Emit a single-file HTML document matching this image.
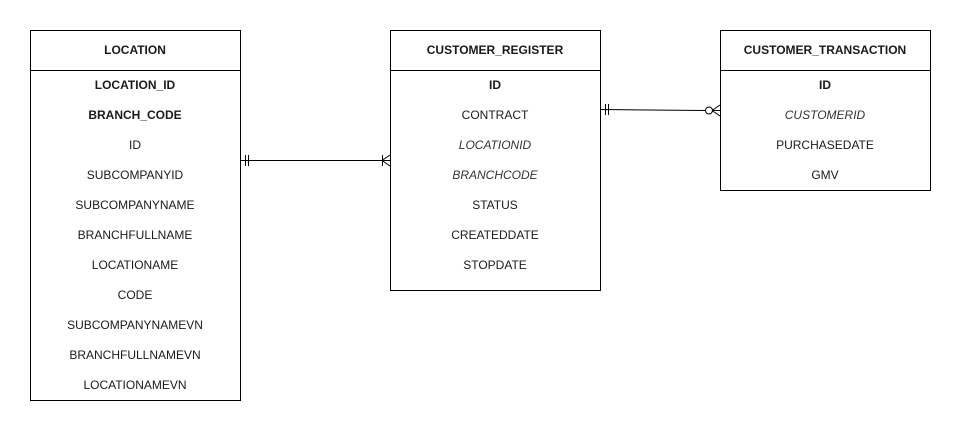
<!DOCTYPE html>
<html><head><meta charset="utf-8"><style>
html,body{margin:0;padding:0;background:#fff;width:963px;height:432px;overflow:hidden}
svg text{font-family:"Liberation Sans",Arial,sans-serif;font-size:12px;fill:#1a1a1a;text-anchor:middle;dominant-baseline:central}
.b{font-weight:bold}
.i{font-style:italic;fill:#333}
</style></head><body>
<svg width="963" height="432" viewBox="0 0 963 432" xmlns="http://www.w3.org/2000/svg">
<g fill="none" stroke="#000" stroke-width="1">
<rect x="30.5" y="30.5" width="210" height="370"/>
<line x1="30" y1="70.5" x2="241" y2="70.5"/>
<rect x="390.5" y="30.5" width="210" height="260"/>
<line x1="390" y1="70.5" x2="601" y2="70.5"/>
<rect x="720.5" y="30.5" width="210" height="160"/>
<line x1="720" y1="70.5" x2="931" y2="70.5"/>
<!-- connector 1 -->
<line x1="241" y1="160.5" x2="390" y2="160.5"/>
<line x1="245.5" y1="155" x2="245.5" y2="166"/>
<line x1="248.5" y1="155" x2="248.5" y2="166"/>
<line x1="382.5" y1="155" x2="382.5" y2="166"/>
<line x1="382" y1="160.5" x2="390" y2="155"/>
<line x1="382" y1="160.5" x2="390" y2="166"/>
<!-- connector 2 -->
<line x1="601" y1="109.5" x2="705" y2="110.5"/>
<line x1="605.5" y1="104" x2="605.5" y2="115"/>
<line x1="608.5" y1="104" x2="608.5" y2="115"/>
<circle cx="709" cy="110.5" r="3.5" fill="#fff"/>
<line x1="712" y1="110.5" x2="720" y2="105"/>
<line x1="712" y1="110.5" x2="720" y2="116"/>
<line x1="712" y1="110.5" x2="720" y2="110.5"/>
</g>
<text class="b" x="135" y="50">LOCATION</text>
<text class="b" x="135" y="85">LOCATION_ID</text>
<text class="b" x="135" y="115">BRANCH_CODE</text>
<text x="135" y="145">ID</text>
<text x="135" y="175">SUBCOMPANYID</text>
<text x="135" y="205">SUBCOMPANYNAME</text>
<text x="135" y="235">BRANCHFULLNAME</text>
<text x="135" y="265">LOCATIONAME</text>
<text x="135" y="295">CODE</text>
<text x="135" y="325">SUBCOMPANYNAMEVN</text>
<text x="135" y="355">BRANCHFULLNAMEVN</text>
<text x="135" y="385">LOCATIONAMEVN</text>

<text class="b" x="495" y="50">CUSTOMER_REGISTER</text>
<text class="b" x="495" y="85">ID</text>
<text x="495" y="115">CONTRACT</text>
<text class="i" x="495" y="145">LOCATIONID</text>
<text class="i" x="495" y="175">BRANCHCODE</text>
<text x="495" y="205">STATUS</text>
<text x="495" y="235">CREATEDDATE</text>
<text x="495" y="265">STOPDATE</text>

<text class="b" x="825" y="50">CUSTOMER_TRANSACTION</text>
<text class="b" x="825" y="85">ID</text>
<text class="i" x="825" y="115">CUSTOMERID</text>
<text x="825" y="145">PURCHASEDATE</text>
<text x="825" y="175">GMV</text>
</svg>
</body></html>
